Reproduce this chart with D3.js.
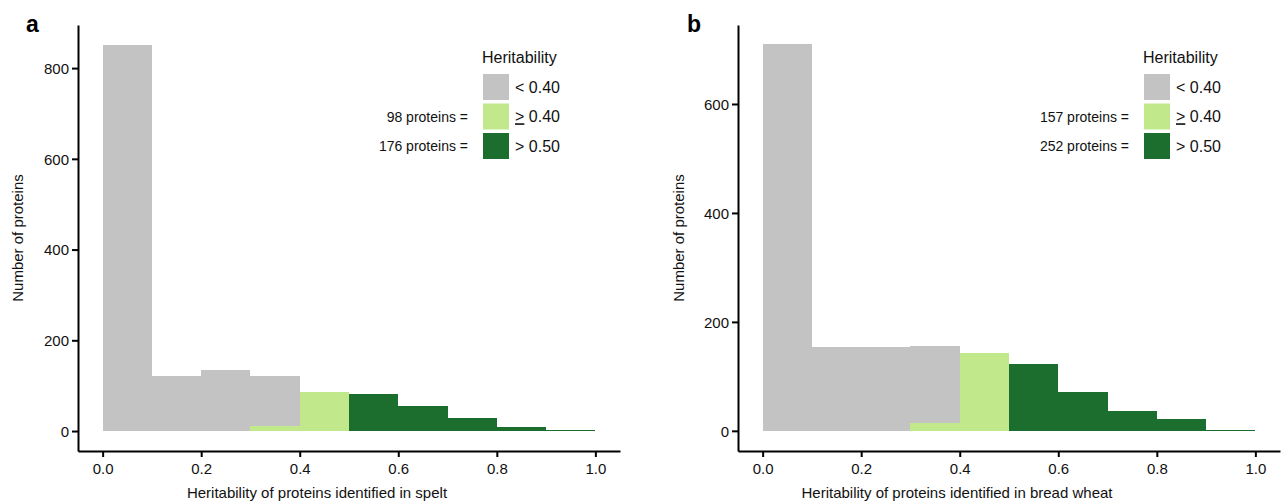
<!DOCTYPE html>
<html>
<head>
<meta charset="utf-8">
<script src="https://cdn.jsdelivr.net/npm/d3@7"></script>
<style>
  body { margin: 0; background: #fff; }
  svg { font-family: "Liberation Sans", Arial, sans-serif; }
</style>
</head>
<body>
<svg id="chart" width="1288" height="504"></svg>
<script>
// histogram bins (lower edges, width 0.1)
const binStarts = [0.0, 0.1, 0.2, 0.3, 0.4, 0.5, 0.6, 0.7, 0.8, 0.9];
const xTicks = [0.0, 0.2, 0.4, 0.6, 0.8, 1.0];

// spelt
const speltLow  = [850, 121, 134, 110, 0, 0, 0, 0, 0, 0];
const speltMid  = [0, 0, 0, 11, 87, 0, 0, 0, 0, 0];
const speltHigh = [0, 0, 0, 0, 0, 81, 55, 28, 10, 2];
const speltTicks = [0, 200, 400, 600, 800];

// bread wheat
const wheatLow  = [710, 153, 153, 142, 0, 0, 0, 0, 0, 0];
const wheatMid  = [0, 0, 0, 14, 143, 0, 0, 0, 0, 0];
const wheatHigh = [0, 0, 0, 0, 0, 122, 71, 36, 22, 1];
const wheatTicks = [0, 200, 400, 600];

const legendLabels = ["< 0.40", "0.40", "> 0.50"];
const colors = { low: "#c3c3c3", mid: "#c1e88a", high: "#1b6e2e" };

const svg = d3.select("#chart");

function drawPanel(cfg)
{
  const g = svg.append("g");
  const x = d3.scaleLinear().domain([-0.05, 1.05]).range([cfg.left, cfg.right]);
  const y = d3.scaleLinear().domain(cfg.yDomain).range([451, 25]);

  // stacked histogram
  const rows = binStarts.map((b, i) => ({ bin: b, mid: cfg.mid[i], low: cfg.low[i], high: cfg.high[i] }));
  const stacked = d3.stack().keys(["mid", "low", "high"])(rows);

  stacked.forEach(layer =>
  {
    g.append("g")
      .attr("fill", colors[layer.key])
      .attr("shape-rendering", "crispEdges")
      .selectAll("rect")
      .data(layer.filter(d => d[1] > d[0]))
      .enter()
      .append("rect")
      .attr("x", d => Math.round(x(d.data.bin)))
      .attr("width", d => Math.round(x(d.data.bin + 0.1)) - Math.round(x(d.data.bin)))
      .attr("y", d => y(d[1]))
      .attr("height", d => Math.max(1, y(d[0]) - y(d[1])));
  });

  // axes
  const xAxis = g.append("g")
    .attr("transform", `translate(0,${ y.range()[0] })`)
    .call(d3.axisBottom(x).tickValues(xTicks).tickFormat(d3.format(".1f")).tickSize(6).tickSizeOuter(0));
  const yAxis = g.append("g")
    .attr("transform", `translate(${ cfg.left },0)`)
    .call(d3.axisLeft(y).tickValues(cfg.yTicks).tickSize(6).tickSizeOuter(0));

  [xAxis, yAxis].forEach(a =>
  {
    a.select(".domain").attr("stroke", "#000").attr("stroke-width", 2);
    a.selectAll(".tick line").attr("stroke", "#000").attr("stroke-width", 2);
    a.selectAll(".tick text").attr("fill", "#111").style("font-size", "15px").style("font-family", "Liberation Sans, Arial, sans-serif");
  });
  xAxis.selectAll(".tick text").attr("dy", "0.95em");
  yAxis.selectAll(".tick text").attr("x", -9).attr("dy", "0.36em");

  // titles
  g.append("text")
    .attr("x", cfg.xTitleX)
    .attr("y", 498)
    .attr("text-anchor", "middle")
    .style("font-size", "15px")
    .attr("fill", "#111")
    .text(cfg.xTitle);

  g.append("text")
    .attr("transform", `translate(${ cfg.yTitleX },238) rotate(-90)`)
    .attr("text-anchor", "middle")
    .attr("dy", "0.35em")
    .style("font-size", "15px")
    .attr("fill", "#111")
    .text("Number of proteins");

  g.append("text")
    .attr("x", cfg.tagX)
    .attr("y", 32)
    .style("font-size", "23px")
    .style("font-weight", "bold")
    .text(cfg.tag);

  // legend
  const lg = g.append("g").attr("transform", `translate(${ cfg.legendX },0)`);
  lg.append("text")
    .attr("x", -1)
    .attr("y", 63)
    .style("font-size", "16px")
    .attr("fill", "#111")
    .text("Heritability");

  ["low", "mid", "high"].forEach((k, i) =>
  {
    const ty = 74 + i * 29.5;
    lg.append("rect")
      .attr("x", 0)
      .attr("y", ty)
      .attr("width", 26)
      .attr("height", 26)
      .attr("fill", colors[k]);

    const t = lg.append("text")
      .attr("x", 32)
      .attr("y", ty + 13)
      .attr("dy", "0.36em")
      .style("font-size", "16px")
      .attr("fill", "#111");
    if (k === "mid")
    {
      t.append("tspan").style("text-decoration", "underline").text(">");
      t.append("tspan").text(" " + legendLabels[i]);
    }
    else
    {
      t.text(legendLabels[i]);
    }
  });

  cfg.counts.forEach((c, i) =>
  {
    lg.append("text")
      .attr("x", -15)
      .attr("y", 74 + (i + 1) * 29.5 + 13)
      .attr("dy", "0.36em")
      .attr("text-anchor", "end")
      .style("font-size", "14px")
      .attr("fill", "#111")
      .text(`${ c } proteins =`);
  });
}

drawPanel({
  tag: "a", tagX: 26,
  left: 78, right: 620,
  yDomain: [-44, 895], yTicks: speltTicks,
  low: speltLow, mid: speltMid, high: speltHigh,
  xTitle: "Heritability of proteins identified in spelt", xTitleX: 317, yTitleX: 18,
  legendX: 483, counts: [98, 176]
});

drawPanel({
  tag: "b", tagX: 687,
  left: 738, right: 1280,
  yDomain: [-37, 745], yTicks: wheatTicks,
  low: wheatLow, mid: wheatMid, high: wheatHigh,
  xTitle: "Heritability of proteins identified in bread wheat", xTitleX: 957, yTitleX: 679,
  legendX: 1144, counts: [157, 252]
});
</script>
</body>
</html>
